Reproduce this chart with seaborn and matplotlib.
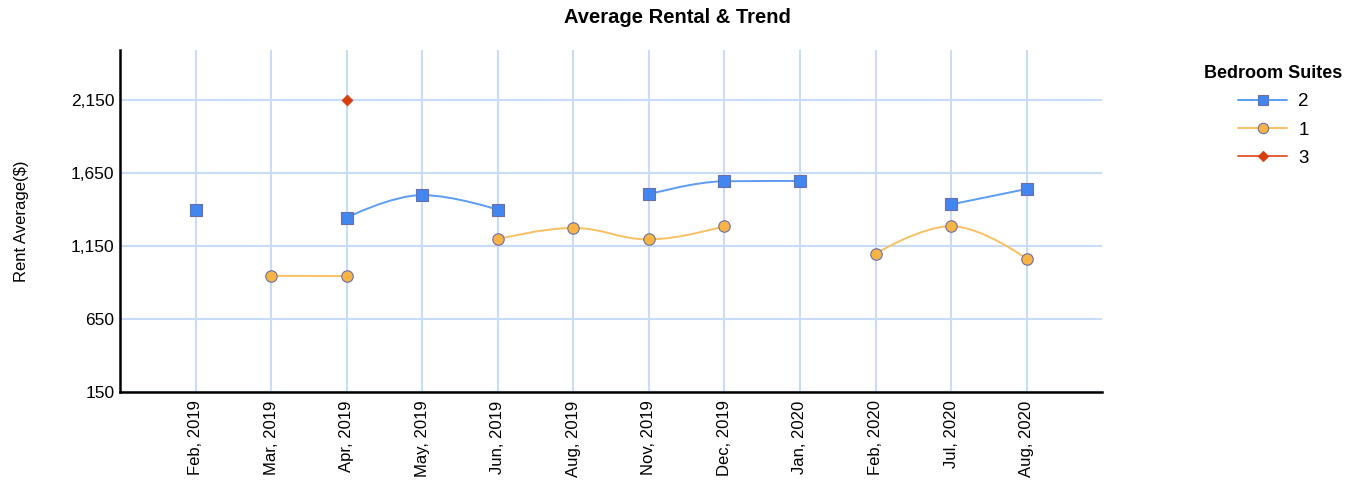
# coding: utf-8
"""
Average rental & trend chart by bedroom suites
"""

import numpy as np
import pandas as pd
import seaborn as sns
import matplotlib.pyplot as plt
from matplotlib.path import Path
from matplotlib.patches import PathPatch
from matplotlib.lines import Line2D
from matplotlib.ticker import FuncFormatter

# data
months = ["Feb, 2019", "Mar, 2019", "Apr, 2019", "May, 2019", "Jun, 2019", "Aug, 2019",
          "Nov, 2019", "Dec, 2019", "Jan, 2020", "Feb, 2020", "Jul, 2020", "Aug, 2020"]
rent_2 = [1400, np.nan, 1345, 1500, 1400, np.nan, 1505, 1595, 1597, np.nan, 1436, 1542]
rent_1 = [np.nan, 947, 945, np.nan, 1198, 1275, 1196, 1287, np.nan, 1097, 1287, 1064]
rent_3 = [np.nan, np.nan, 2150, np.nan, np.nan, np.nan, np.nan, np.nan, np.nan, np.nan, np.nan, np.nan]
suites = ["2", "1", "3"]
y_ticks = [150, 650, 1150, 1650, 2150]

colors = {"2": "#4286f0", "1": "#f8b444", "3": "#d6400f"}
line_colors = {"2": "#5c9cf2", "1": "#f9c063", "3": "#e0603a"}
markers = {"2": "s", "1": "o", "3": "D"}
msizes = {"2": 72, "1": 68, "3": 28}

df = pd.DataFrame({"month": months, "2": rent_2, "1": rent_1, "3": rent_3})
df["pos"] = np.arange(len(months))
long_df = df.melt(id_vars=["month", "pos"], value_vars=suites,
                  var_name="suite", value_name="rent").dropna()


def spline_path(xs, ys, smoothing=1.5):
    """Bezier path through points, highcharts-like spline"""
    n = len(xs)
    lc = [None] * n
    rc = [None] * n
    denom = smoothing + 1
    for i in range(1, n - 1):
        lx = (smoothing * xs[i] + xs[i - 1]) / denom
        ly = (smoothing * ys[i] + ys[i - 1]) / denom
        rx = (smoothing * xs[i] + xs[i + 1]) / denom
        ry = (smoothing * ys[i] + ys[i + 1]) / denom
        corr = ((ry - ly) * (rx - xs[i])) / (rx - lx) + ys[i] - ry
        ly += corr
        ry += corr
        if ly > max(ys[i - 1], ys[i]):
            ly = max(ys[i - 1], ys[i])
            ry = 2 * ys[i] - ly
        elif ly < min(ys[i - 1], ys[i]):
            ly = min(ys[i - 1], ys[i])
            ry = 2 * ys[i] - ly
        if ry > max(ys[i + 1], ys[i]):
            ry = max(ys[i + 1], ys[i])
            ly = 2 * ys[i] - ry
        elif ry < min(ys[i + 1], ys[i]):
            ry = min(ys[i + 1], ys[i])
            ly = 2 * ys[i] - ry
        lc[i] = (lx, ly)
        rc[i] = (rx, ry)
    verts = [(xs[0], ys[0])]
    codes = [Path.MOVETO]
    for i in range(1, n):
        c1 = rc[i - 1] if rc[i - 1] is not None else (xs[i - 1], ys[i - 1])
        c2 = lc[i] if lc[i] is not None else (xs[i], ys[i])
        verts += [c1, c2, (xs[i], ys[i])]
        codes += [Path.CURVE4] * 3
    return Path(verts, codes)


sns.set_style("white")
plt.rcParams['font.family'] = ['Liberation Sans', 'DejaVu Sans']
plt.rcParams['text.color'] = 'black'
plt.rcParams['xtick.color'] = 'black'
plt.rcParams['ytick.color'] = 'black'
plt.rcParams['axes.labelcolor'] = 'black'

fig = plt.figure(figsize=(13.68, 5.04), dpi=100)
ax = fig.add_axes([0.0877, 0.222, 0.718, 0.679])

# smoothed trend segments, broken where a month is missing
for s in suites:
    vals = df[s].values
    run = []
    for i, v in enumerate(list(vals) + [np.nan]):
        if np.isnan(v):
            if len(run) > 1:
                p = spline_path([r[0] for r in run], [r[1] for r in run])
                ax.add_patch(PathPatch(p, facecolor="none", edgecolor=line_colors[s],
                                       lw=1.4, zorder=3))
            run = []
        else:
            run.append((i, v))

for s in suites:
    sub = long_df[long_df["suite"] == s]
    sns.scatterplot(data=sub, x="pos", y="rent", marker=markers[s], s=msizes[s],
                    color=colors[s], edgecolor="#6a6fa8" if s != "3" else colors[s],
                    linewidth=0.8, ax=ax, zorder=4, legend=False)

ax.set_xlim(-1, len(months))
ax.set_ylim(150, 2495)
ax.set_xticks(df["pos"])
ax.set_xticklabels(months, rotation=90, fontsize=12)
ax.set_yticks(y_ticks)
ax.yaxis.set_major_formatter(FuncFormatter(lambda v, p: "{:,.0f}".format(v)))
ax.tick_params(axis="y", labelsize=12.5, length=0, pad=4)
ax.tick_params(axis="x", length=0, pad=6)
ax.grid(True, color="#c8dbf7", lw=1.5)
ax.set_axisbelow(True)
for sp in ["top", "right"]:
    ax.spines[sp].set_visible(False)
for sp in ["left", "bottom"]:
    ax.spines[sp].set_color("black")
    ax.spines[sp].set_linewidth(1.8)
ax.set_xlabel("")
ax.set_ylabel("Rent Average($)", fontsize=12, labelpad=30)

fig.suptitle("Average Rental & Trend", fontsize=14.5, fontweight="bold", x=0.495, y=0.985)

handles = [Line2D([0], [0], color=line_colors[s], lw=1.4, marker=markers[s],
                  markersize={"2": 7.5, "1": 7.5, "3": 5}[s], markerfacecolor=colors[s],
                  markeredgecolor="#6a6fa8" if s != "3" else colors[s], markeredgewidth=0.8)
           for s in suites]
leg = fig.legend(handles, suites, title="Bedroom Suites", loc="upper left",
                 bbox_to_anchor=(0.868, 0.905), frameon=False, fontsize=13.5,
                 title_fontproperties={"weight": "bold", "size": 13},
                 handlelength=2.6, labelspacing=0.6, handletextpad=0.6)

plt.savefig("out.png", dpi=100)
